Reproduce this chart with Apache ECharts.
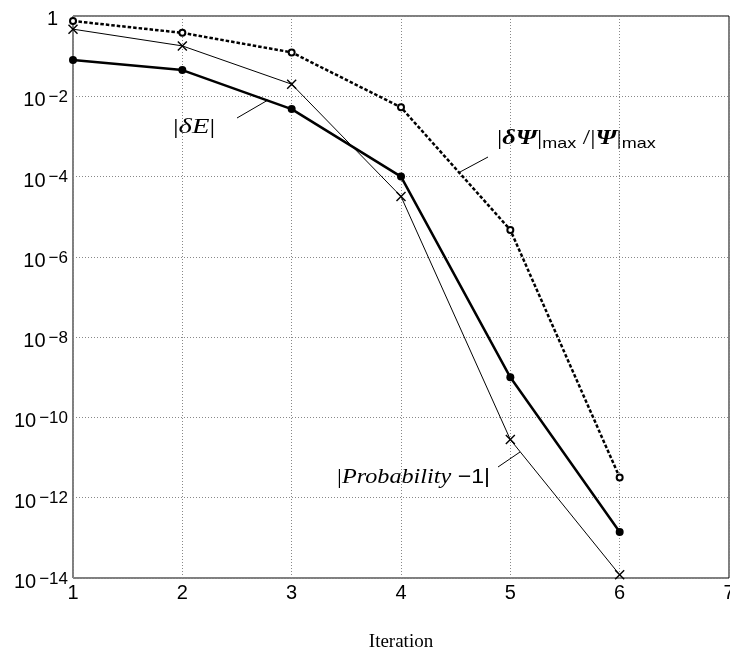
<!DOCTYPE html>
<html>
<head>
<meta charset="utf-8">
<script src="https://cdn.jsdelivr.net/npm/echarts@6/dist/echarts.min.js"></script>
<style>html,body{margin:0;padding:0;background:#fff}#c{width:730px;height:652px}</style>
</head>
<body>
<div id="c"></div>
<script>
// Data
const iterations = [1, 2, 3, 4, 5, 6];
const deltaE = [0.08, 0.045, 4.8e-3, 1.0e-4, 1.0e-9, 1.4e-13];
const deltaPsi = [0.75, 0.38, 0.124, 5.3e-3, 4.7e-6, 3.2e-12];
const probErr = [0.47, 0.18, 0.02, 3.2e-5, 2.8e-11, 1.2e-14];
const yExponents = [0, -2, -4, -6, -8, -10, -12, -14];
const xTicks = [1, 2, 3, 4, 5, 6, 7];

const toPts = arr => iterations.map((x, i) => [x, Math.log10(arr[i])]);

const chart = echarts.init(document.getElementById('c'), null, {renderer: 'canvas'});
const crossPath = 'path://M0,1L1,0L5,4L9,0L10,1L6,5L10,9L9,10L5,6L1,10L0,9L4,5Z';

chart.setOption({
  animation: false,
  backgroundColor: '#fff',
  grid: {left: 73, right: 1, top: 16, bottom: 74, show: true, borderColor: '#000', borderWidth: 1,
         backgroundColor: 'transparent', containLabel: false, outerBoundsMode: 'none'},
  xAxis: {
    type: 'value', min: xTicks[0], max: xTicks[xTicks.length - 1], interval: 1,
    name: 'Iteration', nameLocation: 'middle', nameGap: 55,
    nameTextStyle: {fontFamily: 'Liberation Serif', fontSize: 19, color: '#000'},
    axisLine: {show: false}, axisTick: {show: false},
    axisLabel: {fontFamily: 'Liberation Sans', fontSize: 20, color: '#000', margin: 5, showMinLabel: true, showMaxLabel: true, hideOverlap: false},
    splitLine: {show: true, lineStyle: {color: '#888', width: 1, type: [1, 2]}}
  },
  yAxis: {
    type: 'value', min: yExponents[yExponents.length - 1], max: yExponents[0], interval: 2,
    axisLine: {show: false}, axisTick: {show: false},
    splitLine: {show: true, lineStyle: {color: '#888', width: 1, type: [1, 2]}},
    axisLabel: {
      margin: 5, padding: [7, 0, 0, 0], align: 'right',
      formatter: v => v === 0 ? '{one|1}' : '{b|10}{s|\u2212' + (-v) + '}',
      rich: {
        one: {fontFamily: 'Liberation Sans', fontSize: 20, color: '#000', lineHeight: 20, verticalAlign: 'top', padding: [0, 10, 7, 0]},
        b: {fontFamily: 'Liberation Sans', fontSize: 20, color: '#000', lineHeight: 22, padding: [8, 0, 0, 0], verticalAlign: 'bottom'},
        s: {fontFamily: 'Liberation Sans', fontSize: 17, color: '#000', lineHeight: 16, verticalAlign: 'top', padding: [0, 0, 0, 3]}
      }
    }
  },
  series: [
    {
      name: 'dPsi', type: 'line', data: toPts(deltaPsi), clip: false,
      lineStyle: {color: '#000', width: 2.5, type: [3.5, 2]},
      symbol: 'emptyCircle', symbolSize: 6,
      itemStyle: {color: '#000', borderColor: '#000', borderWidth: 1.2}
    },
    {
      name: 'prob', type: 'line', data: toPts(probErr), clip: false,
      lineStyle: {color: '#000', width: 1},
      symbol: crossPath, symbolSize: 10,
      itemStyle: {color: '#000'}
    },
    {
      name: 'dE', type: 'line', data: toPts(deltaE), clip: false,
      lineStyle: {color: '#000', width: 2.5},
      symbol: 'circle', symbolSize: 8,
      itemStyle: {color: '#000'}
    }
  ],
  graphic: [
    {type: 'line', shape: {x1: 237, y1: 118, x2: 268, y2: 100}, style: {stroke: '#000', lineWidth: 1}},
    {type: 'line', shape: {x1: 460, y1: 172, x2: 488, y2: 157}, style: {stroke: '#000', lineWidth: 1}},
    {type: 'line', shape: {x1: 498, y1: 467, x2: 520, y2: 452}, style: {stroke: '#000', lineWidth: 1}},
    {type: 'text', x: 194, y: 127, scaleX: 1.3,
      style: {text: '{m||}{i|\u03b4E}{m||}', align: 'center', verticalAlign: 'middle',
        rich: {m: {fontFamily: 'Liberation Serif', fontSize: 22, fill: '#000'},
               i: {fontFamily: 'Liberation Serif', fontStyle: 'italic', fontSize: 22, fill: '#000'}}}},
    {type: 'text', x: 497, y: 139, scaleX: 1.2,
      style: {text: '{m||}{i|\u03b4\u03a8}{m||}{s|max}{m| /|}{i|\u03a8}{m||}{s|max}', align: 'left', verticalAlign: 'middle',
        rich: {m: {fontFamily: 'Liberation Serif', fontSize: 22, fill: '#000', lineHeight: 24, verticalAlign: 'top'},
               i: {fontFamily: 'Liberation Serif', fontStyle: 'italic', fontWeight: 'bold', fontSize: 22, fill: '#000', lineHeight: 24, verticalAlign: 'top'},
               s: {fontFamily: 'Liberation Sans', fontSize: 15, fill: '#000', lineHeight: 15, padding: [16, 0, 0, 0], verticalAlign: 'bottom'}}}},
    {type: 'text', x: 490, y: 477, scaleX: 1.1,
      style: {text: '{m||}{i|Probability}{n| \u22121|}', align: 'right', verticalAlign: 'middle',
        rich: {m: {fontFamily: 'Liberation Serif', fontSize: 22, fill: '#000'},
               i: {fontFamily: 'Liberation Serif', fontStyle: 'italic', fontSize: 22, fill: '#000'},
               n: {fontFamily: 'Liberation Sans', fontSize: 21, fill: '#000'}}}}
  ]
});
</script>
</body>
</html>
